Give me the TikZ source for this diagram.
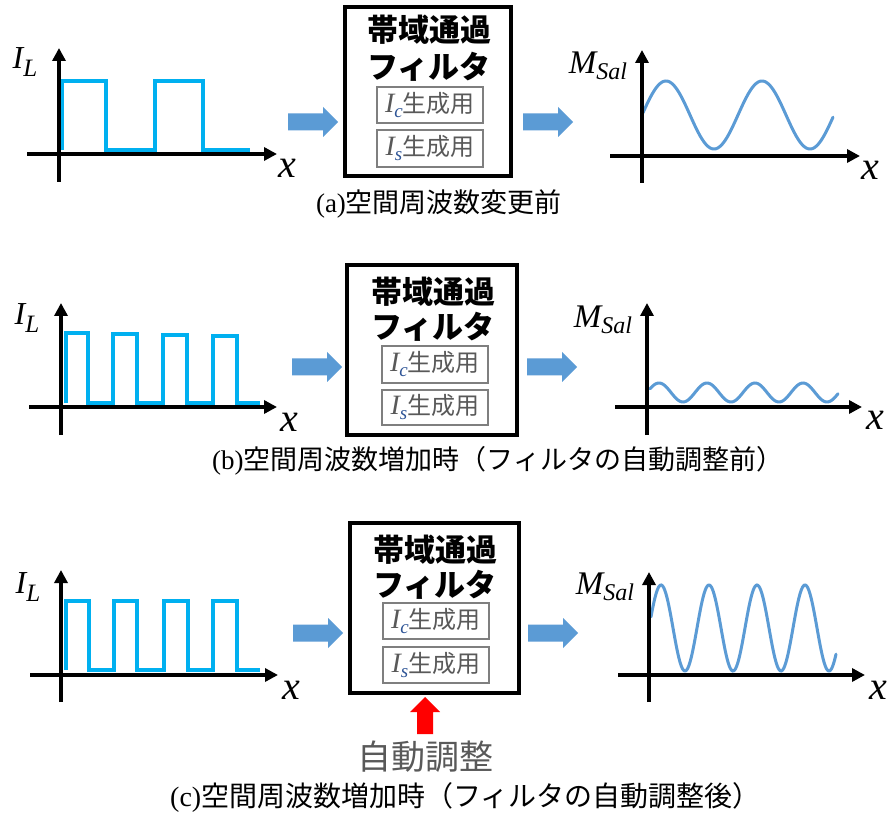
\documentclass[tikz,border=0pt]{standalone}
\usepackage{fontspec}
\setmainfont{Liberation Serif}
\newfontfamily\cjk{Noto Sans CJK JP}
\usetikzlibrary{arrows.meta}
\definecolor{sqcyan}{HTML}{00B0F0}
\definecolor{sineblue}{HTML}{5B9BD5}
\definecolor{arrowblue}{HTML}{5B9BD5}
\definecolor{txtgray}{HTML}{595959}
\definecolor{boxgray}{HTML}{7F7F7F}
\definecolor{subblue}{HTML}{2F5597}
\newcommand\ILlab{{\fontsize{32}{32}\selectfont\itshape I}\raisebox{-8pt}{\fontsize{25}{25}\selectfont\itshape L}}
\newcommand\MSlab{{\fontsize{33}{33}\selectfont\itshape M}\raisebox{-6pt}{\fontsize{24}{24}\selectfont\itshape Sal}}
\newcommand\xlab{{\fontsize{40}{40}\selectfont\itshape x}}
\newcommand\gen[1]{{\color{txtgray}\fontsize{28}{28}\selectfont\itshape I}\raisebox{-5pt}{\fontsize{19}{19}\selectfont\itshape\color{subblue}#1}{\color{txtgray}\cjk\fontsize{24}{24}\selectfont 生成用}}
\newcommand\capt[3]{{\fontsize{#3}{#3}\selectfont #1}{\cjk\fontsize{#3}{#3}\selectfont #2}}
\newcommand\blockarr[2]{\fill[arrowblue,shift={(#1,#2)}] (-25,-8.5) -- (10,-8.5) -- (10,-15) -- (25,0) -- (10,15) -- (10,8.5) -- (-25,8.5) -- cycle;}
\begin{document}
\begin{tikzpicture}[x=1pt,y=-1pt,
  axis/.style={line width=3.5pt,-{Triangle[length=13pt,width=13pt]}},
  sq/.style={sqcyan,line width=3.5pt,line join=miter},
  sine/.style={sineblue,line width=3pt,line cap=round},
  fbox/.style={draw,line width=4.5pt,inner sep=0pt},
  ibox/.style={draw=boxgray,line width=1.3pt,inner sep=0pt,minimum width=106pt},
  ttl/.style={font=\cjk\bfseries\fontsize{31}{31}\selectfont,inner sep=0pt},
  lab/.style={inner sep=0pt}]
\useasboundingbox (0,0) rectangle (892,818);
\fill[white] (0,0) rectangle (892,818);

% ---------- Row (a) ----------
\draw[sq] (62,150) -- (62,81) -- (106,81) -- (106,150) -- (155,150) -- (155,81) -- (203,81) -- (203,150) -- (250,150);
\draw[axis] (27,154) -- (277,154);
\draw[axis] (59,182) -- (59,48);
\node[lab] (ILa) at (25,62) {\ILlab};
\node[lab] (xa) at (287,168) {\xlab};

\blockarr{313}{122}
\node[fbox,minimum width=166pt,minimum height=169pt] (boxa) at (428,91.5) {};
\node[ttl] (ta1) at (429,30) {帯域通過};
\node[ttl] (ta2) at (429,67) {フィルタ};
\node[ibox,minimum height=36pt] (ica) at (430,105) {\gen{c}};
\node[ibox,minimum height=37pt] (isa) at (430,148.5) {\gen{s}};
\blockarr{548}{122}

\draw[sine] plot[domain=643:833,samples=200] (\x,{115-34*sin(3.75*(\x-642))});
\draw[axis] (610,156) -- (860,156);
\draw[axis] (642,183) -- (642,50);
\node[lab] (Ma) at (598,66) {\MSlab};
\node[lab] (xa2) at (870,170) {\xlab};

\node[lab] (capa) at (439,204) {\capt{(a)}{空間周波数変更前}{27}};

% ---------- Row (b) ----------
\draw[sq] (66,403) -- (66,333) -- (88,333) -- (88,403) -- (113,403) -- (113,334) -- (137,334) -- (137,403) -- (163,403) -- (163,335) -- (187,335) -- (187,403) -- (213,403) -- (213,336) -- (237,336) -- (237,403) -- (260,403);
\draw[axis] (29,407) -- (277,407);
\draw[axis] (61,435) -- (61,303);
\node[lab] (ILb) at (27,318) {\ILlab};
\node[lab] (xb) at (289,422) {\xlab};

\blockarr{317}{367}
\node[fbox,minimum width=170pt,minimum height=170pt] (boxb) at (432,350) {};
\node[ttl] (tb1) at (433,292) {帯域通過};
\node[ttl] (tb2) at (433,327) {フィルタ};
\node[ibox,minimum height=37pt] (icb) at (435,364.5) {\gen{c}};
\node[ibox,minimum height=35pt] (isb) at (435,407.5) {\gen{s}};
\blockarr{552}{367}

\draw[sine] plot[domain=650:838,samples=200] (\x,{392.5-9.5*sin(7.5*(\x-647))});
\draw[axis] (615,407) -- (862,407);
\draw[axis] (647,435) -- (647,303);
\node[lab] (Mb) at (603,320) {\MSlab};
\node[lab] (xb2) at (875,420) {\xlab};

\node[lab,anchor=west] (capb) at (212,461) {\capt{(b)}{空間周波数増加時（フィルタの自動調整前）}{27}};

% ---------- Row (c) ----------
\draw[sq] (66,670) -- (66,601) -- (89,601) -- (89,670) -- (114,670) -- (114,601) -- (137,601) -- (137,670) -- (164,670) -- (164,601) -- (188,601) -- (188,670) -- (213,670) -- (213,601) -- (237,601) -- (237,670) -- (260,670);
\draw[axis] (30,675) -- (278,675);
\draw[axis] (61,702) -- (61,570);
\node[lab] (ILc) at (28,587) {\ILlab};
\node[lab] (xc) at (291,690) {\xlab};

\blockarr{318}{633}
\node[fbox,minimum width=169pt,minimum height=170pt] (boxc) at (434.5,608) {};
\node[ttl] (tc1) at (435,550) {帯域通過};
\node[ttl] (tc2) at (435,585) {フィルタ};
\node[ibox,minimum height=36pt] (icc) at (436,621) {\gen{c}};
\node[ibox,minimum height=36pt] (isc) at (436,665) {\gen{s}};
\blockarr{553}{633}

\draw[sine] plot[domain=651:836,samples=200] (\x,{628-43*sin(7.5*(\x-649))});
\draw[axis] (618,675) -- (865,675);
\draw[axis] (649,702) -- (649,572);
\node[lab] (Mc) at (605,587) {\MSlab};
\node[lab] (xc2) at (878,690) {\xlab};

\fill[red] (417,734) -- (417,712) -- (410,712) -- (425,697) -- (440,712) -- (433,712) -- (433,734) -- cycle;
\node[lab,text=txtgray,font=\cjk\fontsize{34}{34}\selectfont] (auto) at (425,757) {自動調整};

\node[lab,anchor=west] (capc) at (170,797) {\capt{(c)}{空間周波数増加時（フィルタの自動調整後）}{28}};
\end{tikzpicture}
\end{document}
